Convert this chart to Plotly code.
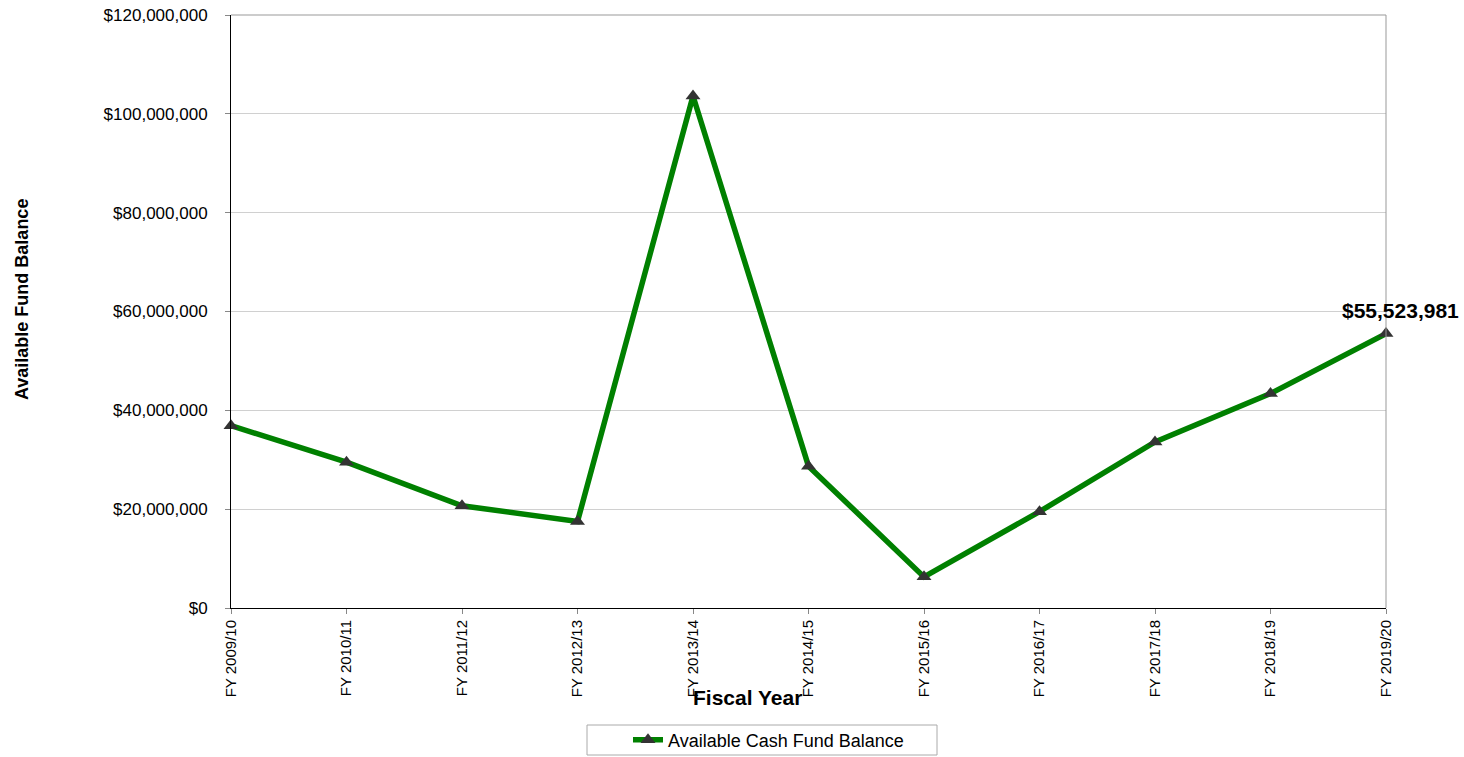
import plotly.graph_objects as go

years = ["FY 2009/10", "FY 2010/11", "FY 2011/12", "FY 2012/13", "FY 2013/14", "FY 2014/15",
         "FY 2015/16", "FY 2016/17", "FY 2017/18", "FY 2018/19", "FY 2019/20"]
balance = [36900000, 29500000, 20700000, 17500000, 103600000, 28700000,
           6300000, 19500000, 33600000, 43400000, 55523981]
series_name = "Available Cash Fund Balance"
last_label = "$55,523,981"

L, R, T, B = 231, 78, 15, 149
W, H = 1464, 757
pw, ph = W - L - R, H - T - B

def px(x):
    return (x - L) / pw

def py(y):
    return (H - B - y) / ph

fig = go.Figure()
fig.add_trace(go.Scatter(
    x=years, y=balance, mode="lines+markers", name=series_name,
    line=dict(color="#008000", width=5.5),
    marker=dict(symbol="triangle-up", size=13, color="#333333"),
    cliponaxis=False,
))

fig.add_annotation(x=years[-1], y=balance[-1], text="<b>" + last_label + "</b>",
                   showarrow=False, xshift=14, yshift=23,
                   font=dict(family="Arial, Liberation Sans", size=21, color="#000000"))
fig.add_annotation(xref="paper", yref="paper", x=px(747), y=py(697), text="<b>Fiscal Year</b>",
                   showarrow=False, xanchor="center", yanchor="middle",
                   font=dict(family="Arial, Liberation Sans", size=21, color="#000000"))
fig.add_annotation(xref="paper", yref="paper", x=px(22), y=py(300), text="<b>Available Fund Balance</b>",
                   showarrow=False, xanchor="center", yanchor="middle", textangle=-90,
                   font=dict(family="Arial, Liberation Sans", size=18, color="#000000"))

# plot-area border (top and right) and legend box
fig.add_shape(type="line", xref="paper", yref="paper", x0=1, x1=1, y0=0, y1=1,
              line=dict(color="#999999", width=1))
fig.add_shape(type="line", xref="paper", yref="paper", x0=0, x1=1, y0=1, y1=1,
              line=dict(color="#999999", width=1))
fig.add_shape(type="rect", xref="paper", yref="paper", x0=px(587), x1=px(937), y0=py(755), y1=py(725),
              line=dict(color="#aaaaaa", width=1), fillcolor="rgba(0,0,0,0)")

fig.update_layout(
    width=W, height=H,
    margin=dict(l=L, r=R, t=T, b=B, autoexpand=False),
    paper_bgcolor="white", plot_bgcolor="white",
    font=dict(family="Arial, Liberation Sans", color="#000000"),
    showlegend=True,
    legend=dict(x=px(628), y=py(740), xanchor="left", yanchor="middle",
                borderwidth=0, bgcolor="rgba(0,0,0,0)",
                font=dict(family="Arial, Liberation Sans", size=18, color="#000000")),
    xaxis=dict(type="category", range=[0, 10], showgrid=False, automargin=False,
               showline=True, linecolor="#000000", linewidth=1,
               ticks="outside", ticklen=5, tickcolor="#888888",
               tickangle=-90, tickfont=dict(size=15)),
    yaxis=dict(range=[0, 120000000], dtick=20000000, tickformat="$,.0f", automargin=False,
               showgrid=True, gridcolor="#d0d0d0", gridwidth=1,
               showline=True, linecolor="#000000", linewidth=1,
               ticks="outside", ticklen=5, tickcolor="#888888",
               ticklabelstandoff=14, tickfont=dict(size=17), zeroline=False),
)

fig.write_html("out.html")
